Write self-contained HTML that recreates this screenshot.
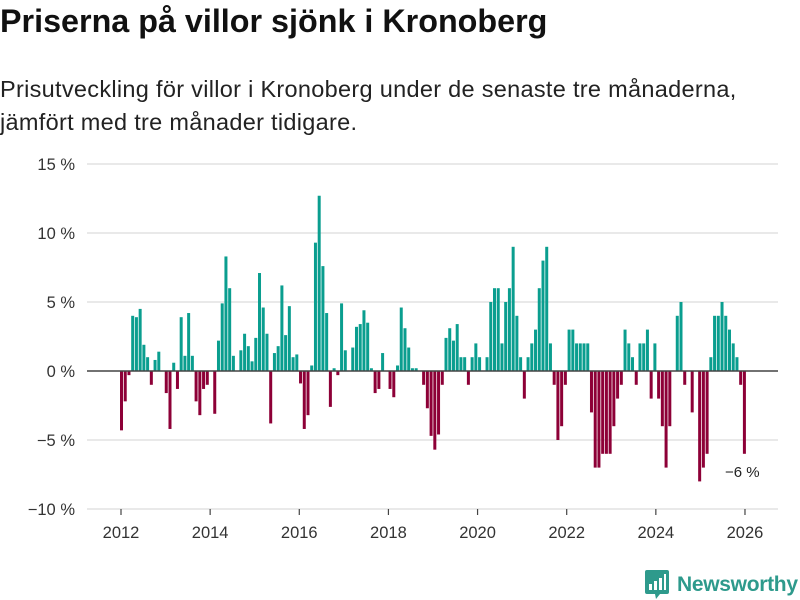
<!DOCTYPE html>
<html><head><meta charset="utf-8"><style>
body{margin:0;width:800px;height:600px;background:#fff;font-family:"Liberation Sans","DejaVu Sans",sans-serif;overflow:hidden;position:relative}
.t{position:absolute;left:0;top:3px;font-size:32.3px;font-weight:bold;color:#111;letter-spacing:0px;white-space:nowrap}
.s{position:absolute;left:0;top:73px;font-size:23.5px;line-height:33px;color:#222;white-space:nowrap;letter-spacing:0.3px}
</style></head><body>
<div class="t">Priserna på villor sjönk i Kronoberg</div>
<div class="s">Prisutveckling för villor i Kronoberg under de senaste tre månaderna,<br>jämfört med tre månader tidigare.</div>
<svg id="c" width="800" height="600" style="position:absolute;left:0;top:0"></svg>
<script>
const values=[-4.3,-2.2,-0.3,4.0,3.9,4.5,1.9,1.0,-1.0,0.8,1.4,0,-1.6,-4.2,0.6,-1.3,3.9,1.1,4.2,1.1,-2.2,-3.2,-1.3,-1.0,0,-3.1,2.2,4.9,8.3,6.0,1.1,0,1.5,2.7,1.8,0.7,2.4,7.1,4.6,2.7,-3.8,1.3,1.8,6.2,2.6,4.7,1.0,1.2,-0.9,-4.2,-3.2,0.4,9.3,12.7,7.6,4.2,-2.6,0.2,-0.3,4.9,1.5,0,1.7,3.2,3.4,4.4,3.5,0.2,-1.6,-1.3,1.3,0,-1.3,-1.9,0.4,4.6,3.1,1.7,0.2,0.2,0,-1.0,-2.7,-4.7,-5.7,-4.6,-1.0,2.4,3.1,2.2,3.4,1.0,1.0,-1.0,1.0,2.0,1.0,0,1.0,5,6,6,2,5,6,9,4,1,-2,1,2,3,6,8,9,2,-1,-5,-4,-1,3,3,2,2,2,2,-3,-7,-7,-6,-6,-6,-4,-2,-1,3,2,1,-1,2,2,3,-2,2,-2,-4,-7,-4,0,4,5,-1,0,-3,0,-8,-7,-6,1,4,4,5,4,3,2,1,-1,-6];
const yTicks=[15,10,5,0,-5,-10];
const yLabels=["15 %","10 %","5 %","0 %","\u22125 %","\u221210 %"];
const xYears=[2012,2014,2016,2018,2020,2022,2024,2026];
const svg=document.getElementById('c');const NS='http://www.w3.org/2000/svg';
const y=v=>371-v*13.8;
const xi=i=>121.5+i*3.73;
const xy=yr=>121+(yr-2012)*44.57;
function mk(t,a){const e=document.createElementNS(NS,t);for(const k in a)e.setAttribute(k,a[k]);svg.appendChild(e);return e;}
yTicks.forEach((v,k)=>{
 if(v!==0){const l=mk('line',{x1:87,x2:778,y1:y(v),y2:y(v),stroke:'#dcdcdc','stroke-width':1.3});
 
 }
 const t=mk('text',{x:75,y:y(v)+6,'text-anchor':'end','font-size':16.5,fill:'#333','font-family':'Liberation Sans, sans-serif'});t.textContent=yLabels[k];
 
 
});
xYears.forEach(yr=>{
 const l=mk('line',{x1:xy(yr),x2:xy(yr),y1:509,y2:515,stroke:'#444','stroke-width':1.2});
 
 
 const t=mk('text',{x:xy(yr),y:538,'text-anchor':'middle','font-size':16.5,fill:'#333','font-family':'Liberation Sans, sans-serif'});t.textContent=yr;
 
 
});
values.forEach((v,i)=>{
 if(v===0)return;
 const r=mk('rect',{x:xi(i)-1.5,width:3,y:Math.min(y(v),y(0)),height:Math.abs(y(v)-y(0)),fill:v>0?'#0a9e8f':'#8d0037'});
 
 
});
const z=mk('line',{x1:87,x2:778,y1:y(0),y2:y(0),stroke:'#444','stroke-width':1.6});


const a=mk('text',{x:725,y:477,'font-size':15,fill:'#222','font-family':'Liberation Sans, sans-serif'});a.textContent='\u22126 %';


</script>
<div style="position:absolute;left:645px;top:570px;display:flex;align-items:center">
<svg width="24" height="29" viewBox="0 0 24 29"><path d="M2 0h20a2 2 0 0 1 2 2v20a2 2 0 0 1-2 2h-7l-4 5-1-5H2a2 2 0 0 1-2-2V2a2 2 0 0 1 2-2z" fill="#2e9a8c"/><rect x="4" y="14" width="3" height="6" fill="#fff"/><rect x="9" y="11" width="3" height="9" fill="#fff"/><rect x="14" y="8" width="3" height="12" fill="#fff"/><rect x="19" y="4" width="2" height="16" fill="#fff"/></svg>
<span style="font-size:21px;color:#2e9a8c;margin-left:8px;font-weight:bold;letter-spacing:-0.3px">Newsworthy</span></div>
</body></html>
